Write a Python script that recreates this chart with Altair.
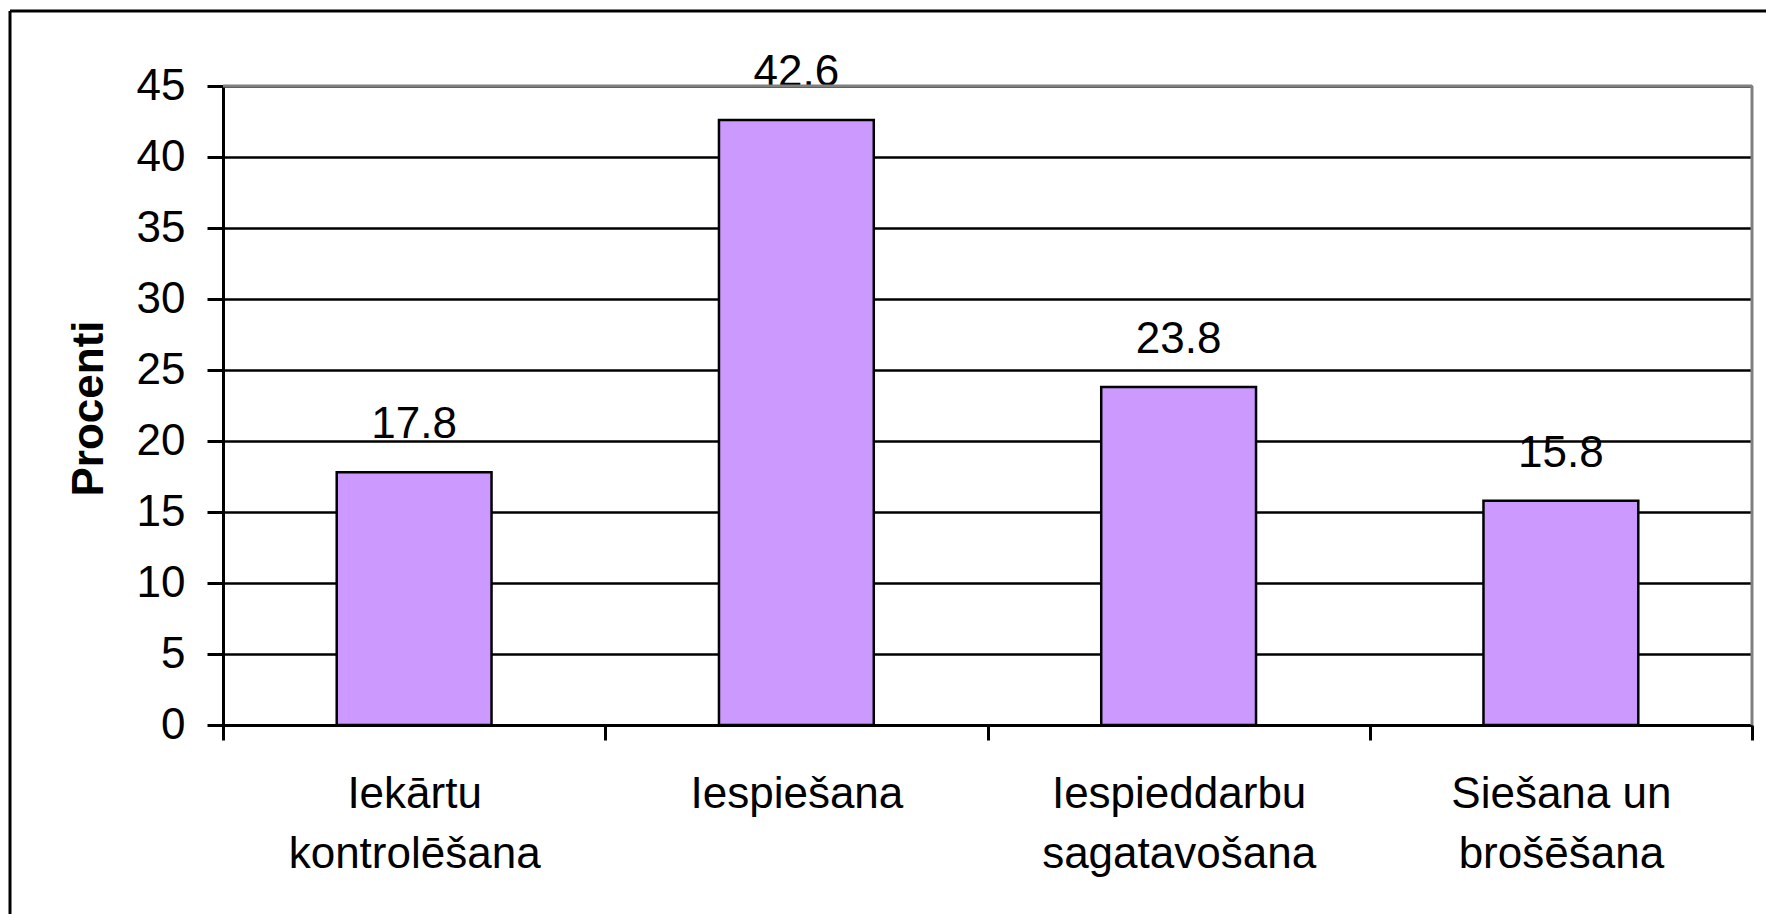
import altair as alt
import pandas as pd

categories = ["Iekārtu\nkontrolēšana", "Iespiešana", "Iespieddarbu\nsagatavošana", "Siešana un\nbrošēšana"]
values = [17.8, 42.6, 23.8, 15.8]
y_ticks = [0, 5, 10, 15, 20, 25, 30, 35, 40, 45]

df = pd.DataFrame({"cat": categories, "val": values})

W, H = 1529, 639
FONT = "Liberation Sans"

base = alt.Chart(df)

bars = base.mark_bar(
    fill="#CC99FF", stroke="black", strokeWidth=2.5, width=alt.RelativeBandSize(0.405)
).encode(
    x=alt.X(
        "cat:N",
        sort=categories,
        scale=alt.Scale(paddingInner=0, paddingOuter=0),
        axis=alt.Axis(
            title=None,
            labelAngle=0,
            labelExpr="split(datum.label, '\\n')",
            labelLimit=0,
            tickBand="extent",
            tickSize=15,
            tickWidth=3,
            tickColor="black",
            domainColor="black",
            domainWidth=3,
            labelFontSize=44,
            labelFont=FONT,
            labelColor="black",
            labelPadding=32,
            labelLineHeight=60,
            grid=False,
        ),
    ),
    y=alt.Y(
        "val:Q",
        scale=alt.Scale(domain=[0, 45], nice=False),
        axis=alt.Axis(
            values=y_ticks,
            title="Procenti",
            titleFontSize=44,
            titleFont=FONT,
            titleFontWeight="bold",
            titleColor="black",
            titleX=-121,
            titleY=322,
            titleAngle=270,
            titleBaseline="alphabetic",
            titleAlign="center",
            labelFontSize=44,
            labelFont=FONT,
            labelColor="black",
            labelPadding=22,
            tickSize=16,
            tickWidth=3,
            tickColor="black",
            domainColor="black",
            domainWidth=3,
            gridColor="black",
            gridWidth=2.5,
        ),
    ),
)

labels = base.mark_text(
    dy=-34, baseline="alphabetic", fontSize=44, font=FONT, color="black"
).encode(
    x=alt.X("cat:N", sort=categories),
    y=alt.Y("val:Q"),
    text=alt.Text("val:Q", format=".1f"),
)

one = alt.Data(values=[{"k": 1}])

top_border = alt.Chart(one).mark_rule(color="#808080", strokeWidth=3).encode(
    y=alt.value(0), x=alt.value(0), x2=alt.value(W)
)
right_border = alt.Chart(one).mark_rule(color="#808080", strokeWidth=3).encode(
    x=alt.value(W), y=alt.value(0), y2=alt.value(H)
)
outer_left = alt.Chart(one).mark_rule(color="black", strokeWidth=3).encode(
    x=alt.value(-213), y=alt.value(-75), y2=alt.value(900)
)
outer_top = alt.Chart(one).mark_rule(color="black", strokeWidth=3).encode(
    y=alt.value(-75), x=alt.value(-213), x2=alt.value(1700)
)

chart = (
    alt.layer(bars, labels, top_border, right_border, outer_left, outer_top)
    .properties(
        width=W,
        height=H,
        autosize=alt.AutoSizeParams(type="none"),
        padding={"left": 215, "top": 78, "right": 14, "bottom": 189},
        background="white",
    )
    .configure(font=FONT)
    .configure_view(strokeWidth=0)
)

chart.save("out.html", embed_options={"renderer": "svg", "actions": False})
